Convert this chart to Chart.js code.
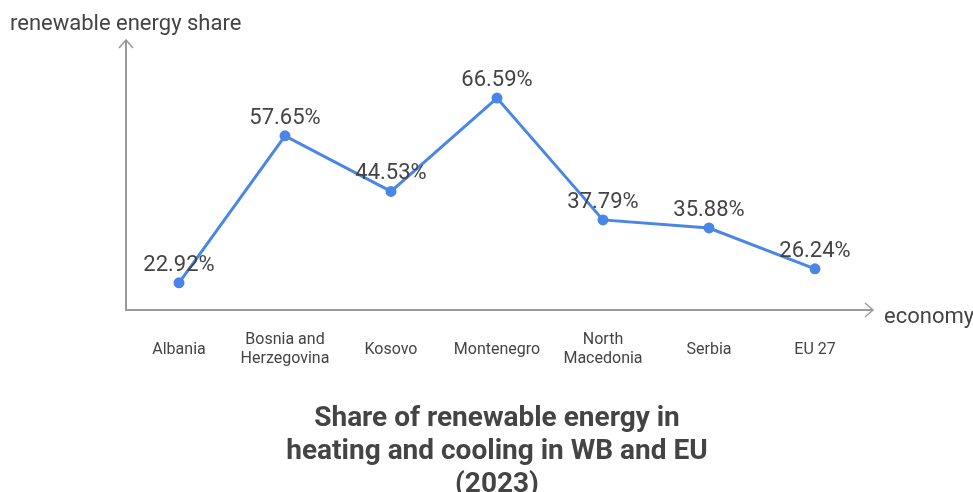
<!DOCTYPE html>
<html>
<head>
<meta charset="utf-8">
<script src="https://cdn.jsdelivr.net/npm/chart.js@4"></script>
<style>
  html, body { margin: 0; padding: 0; background: #fff; }
  #wrap { width: 973px; height: 492px; }
</style>
</head>
<body>
<div id="wrap"><canvas id="shareChart"></canvas></div>
<script>
const economies = [
  'Albania',
  ['Bosnia and', 'Herzegovina'],
  'Kosovo',
  'Montenegro',
  ['North', 'Macedonia'],
  'Serbia',
  'EU 27'
];
const shares = [22.92, 57.65, 44.53, 66.59, 37.79, 35.88, 26.24];
const titleLines = ['Share of renewable energy in', 'heating and cooling in WB and EU', '(2023)'];

const textColor = '#444';
const axisColor = '#9a9a9a';
const lineColor = '#4a86e8';

// axis lines with arrows, axis names, value labels
const decorations = {
  id: 'decorations',
  afterDatasetsDraw(chart) {
    const c = chart.ctx;
    const a = chart.chartArea;
    const x0 = a.left, y0 = a.bottom;
    const xEnd = a.right + 5, yEnd = a.top;

    c.save();
    c.strokeStyle = axisColor;
    c.lineWidth = 2;
    c.beginPath();
    c.moveTo(x0, yEnd);
    c.lineTo(x0, y0);
    c.lineTo(xEnd, y0);
    c.stroke();
    // arrow heads
    c.lineWidth = 1.5;
    c.beginPath();
    c.moveTo(x0 - 7, yEnd + 8);
    c.lineTo(x0, yEnd);
    c.lineTo(x0 + 7, yEnd + 8);
    c.moveTo(xEnd - 8, y0 - 7);
    c.lineTo(xEnd, y0);
    c.lineTo(xEnd - 8, y0 + 7);
    c.stroke();

    c.fillStyle = textColor;
    c.font = '22px Roboto';
    c.textAlign = 'left';
    c.textBaseline = 'middle';
    c.fillText('renewable energy share', 10, 24);
    c.fillText('economy', xEnd + 11, y0 + 7);

    // value labels
    c.font = '22px Roboto';
    c.textAlign = 'center';
    c.textBaseline = 'alphabetic';
    const meta = chart.getDatasetMeta(0);
    meta.data.forEach((pt, i) => {
      c.fillText(shares[i].toFixed(2) + '%', pt.x, pt.y - 12);
    });
    c.restore();
  }
};

new Chart(document.getElementById('shareChart'), {
  type: 'line',
  data: {
    labels: economies,
    datasets: [{
      data: shares,
      borderColor: lineColor,
      backgroundColor: lineColor,
      borderWidth: 3,
      pointRadius: 4,
      pointHoverRadius: 4,
      tension: 0
    }]
  },
  options: {
    responsive: true,
    maintainAspectRatio: false,
    animation: false,
    layout: { padding: { left: 126, right: 105, top: 40, bottom: -9 } },
    plugins: {
      legend: { display: false },
      tooltip: { enabled: false },
      title: {
        display: true,
        position: 'bottom',
        text: titleLines,
        color: textColor,
        font: { family: 'Roboto', size: 28, weight: 'bold', lineHeight: '33px' },
        padding: { top: -6, bottom: 0 }
      }
    },
    scales: {
      x: {
        offset: true,
        grid: { display: false, drawTicks: false },
        border: { display: false },
        ticks: {
          color: textColor,
          font: { family: 'Roboto', size: 16, lineHeight: '19px' },
          padding: 30,
          maxRotation: 0,
          autoSkip: false,
          crossAlign: 'center'
        }
      },
      y: {
        display: false,
        min: 16.5,
        max: 80.3
      }
    }
  },
  plugins: [decorations]
});
</script>
</body>
</html>
